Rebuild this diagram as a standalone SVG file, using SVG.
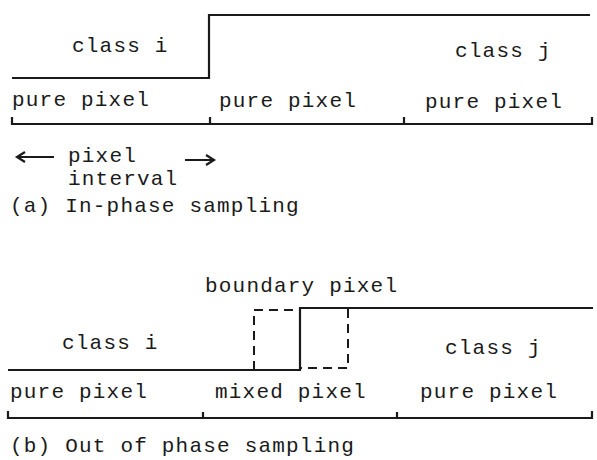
<svg xmlns="http://www.w3.org/2000/svg" width="597" height="460" viewBox="0 0 597 460">
  <style>
    text { font-family: "Liberation Mono", "DejaVu Sans Mono", monospace; font-size: 21px; letter-spacing: 1.2px; fill: #1a1a1a; }
    .edge { fill: none; stroke: #1a1a1a; stroke-width: 2.2; }
    .dash { fill: none; stroke: #1a1a1a; stroke-width: 2; stroke-dasharray: 9 6; }
  </style>
  <rect width="597" height="460" fill="#ffffff"/>

  <!-- (a) in-phase sampling -->
  <g id="a-profile">
    <path class="edge" d="M12 78 H209 V15 H590"/>
    <text x="72" y="52">class i</text>
    <text x="455" y="57">class j</text>
  </g>
  <g id="a-pixels">
    <text x="12" y="106">pure pixel</text>
    <text x="219" y="107">pure pixel</text>
    <text x="425" y="108">pure pixel</text>
    <path class="edge" d="M12 117 V124 H592 V117 M210 117 V124 M404 117 V124"/>
  </g>
  <g id="a-interval">
    <path class="edge" d="M54 157 H18 M25 152 L17 157 L25 162"/>
    <path class="edge" d="M185 160 H213 M206 155 L214 160 L206 165"/>
    <text x="68" y="162">pixel</text>
    <text x="68" y="185">interval</text>
  </g>
  <text x="10" y="212">(a) In-phase sampling</text>

  <!-- (b) out of phase sampling -->
  <g id="b-profile">
    <text x="205" y="292">boundary pixel</text>
    <path class="edge" d="M8 370 H300 V308 H593"/>
    <path class="dash" d="M254 370 V310 H300 M348 309 V368 H300"/>
    <text x="62" y="349">class i</text>
    <text x="445" y="354">class j</text>
  </g>
  <g id="b-pixels">
    <text x="10" y="398">pure pixel</text>
    <text x="215" y="398">mixed pixel</text>
    <text x="420" y="398">pure pixel</text>
    <path class="edge" d="M8 411 V418 H592 V411 M203 412 V418 M397 412 V418"/>
  </g>
  <text x="10" y="452">(b) Out of phase sampling</text>
</svg>
